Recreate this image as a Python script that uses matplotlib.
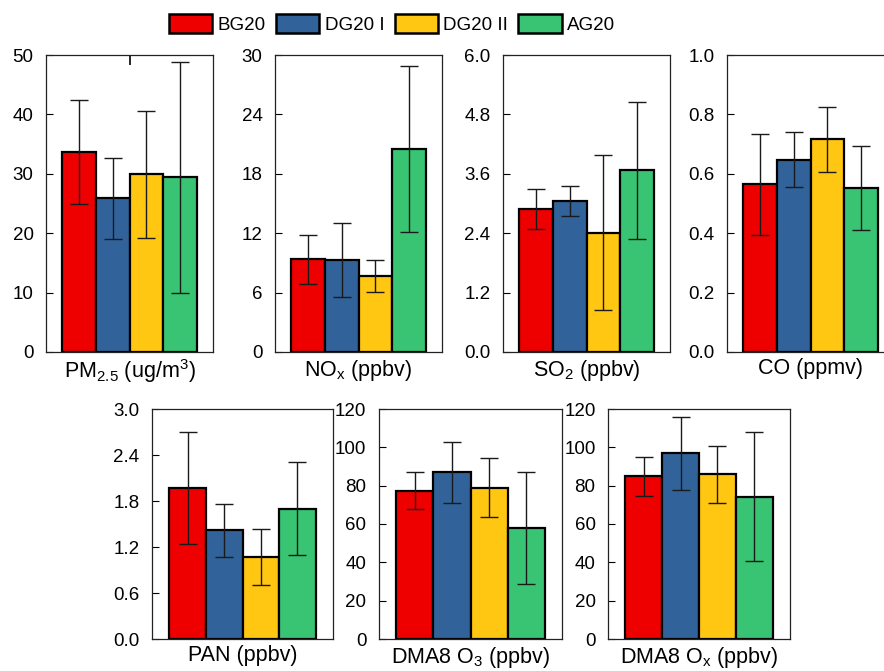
import numpy as np
import matplotlib
matplotlib.use("Agg")
import matplotlib.pyplot as plt
from matplotlib.patches import Patch

plt.rcParams['font.family'] = ['Liberation Sans', 'DejaVu Sans']
plt.rcParams['mathtext.fontset'] = 'custom'
plt.rcParams['mathtext.rm'] = 'Liberation Sans'
plt.rcParams['mathtext.it'] = 'Liberation Sans'

# Periods / groups
groups = ['BG20', 'DG20 I', 'DG20 II', 'AG20']
colors = ['#EE0000', '#31639A', '#FFC612', '#38C472']

# Means and standard deviations
pm25_mean = [33.7, 25.9, 29.9, 29.4]
pm25_sd = [8.7, 6.8, 10.7, 19.5]
nox_mean = [9.35, 9.3, 7.65, 20.5]
nox_sd = [2.5, 3.7, 1.6, 8.4]
so2_mean = [2.89, 3.05, 2.41, 3.67]
so2_sd = [0.40, 0.30, 1.57, 1.38]
co_mean = [0.565, 0.648, 0.716, 0.552]
co_sd = [0.170, 0.094, 0.110, 0.140]
pan_mean = [1.97, 1.42, 1.07, 1.70]
pan_sd = [0.73, 0.345, 0.37, 0.61]
o3_mean = [77.4, 87.1, 78.8, 57.9]
o3_sd = [9.7, 15.9, 15.4, 29.0]
ox_mean = [84.9, 97.0, 85.9, 74.3]
ox_sd = [10.3, 19.0, 15.0, 33.5]

labels = [r'PM$_{2.5}$ (ug/m$^3$)', r'NO$_\mathrm{x}$ (ppbv)', r'SO$_2$ (ppbv)', 'CO (ppmv)',
          'PAN (ppbv)', r'DMA8 O$_3$ (ppbv)', r'DMA8 O$_\mathrm{x}$ (ppbv)']
means = [pm25_mean, nox_mean, so2_mean, co_mean, pan_mean, o3_mean, ox_mean]
sds = [pm25_sd, nox_sd, so2_sd, co_sd, pan_sd, o3_sd, ox_sd]
yticks = [np.arange(0, 51, 10), np.arange(0, 31, 6), np.arange(0, 6.01, 1.2),
          np.arange(0, 1.01, 0.2), np.arange(0, 3.01, 0.6), np.arange(0, 121, 20),
          np.arange(0, 121, 20)]
yfmt = ['{:.0f}', '{:.0f}', '{:.1f}', '{:.1f}', '{:.1f}', '{:.0f}', '{:.0f}']

W, H = 884, 671
fig = plt.figure(figsize=(W / 100, H / 100), dpi=100)

# axes boxes in pixels: left, top, width, height (CO panel runs off the right edge)
boxes = [(46, 55, 167, 297), (275, 55, 167, 297), (503, 55, 167, 297), (727, 55, 167, 297),
         (152, 409, 181, 230), (379, 409, 183, 230), (608, 409, 182, 230)]

x = np.arange(len(groups))
for i, (l, t, w, h) in enumerate(boxes):
    ax = fig.add_axes([l / W, 1 - (t + h) / H, w / W, h / H])
    ax.bar(x, means[i], width=1.0, color=colors, edgecolor='black', linewidth=1.6, zorder=2)
    ax.errorbar(x, means[i], yerr=sds[i], fmt='none', ecolor='#1a1a1a',
                elinewidth=1.0, capsize=6.5, capthick=1.0, zorder=3)
    ax.set_xlim(-0.97, 3.97)
    ax.set_ylim(yticks[i][0], yticks[i][-1])
    ax.set_yticks(yticks[i])
    ax.set_yticklabels([yfmt[i].format(v) for v in yticks[i]])
    ax.tick_params(axis='y', direction='in', length=5, width=0.8, pad=9, labelsize=13.5)
    if i == 0:
        ax.set_xticks([1.5])
        ax.tick_params(axis='x', bottom=False, top=True, direction='in', length=7,
                       width=1.2, labelbottom=False)
    else:
        ax.set_xticks([])
    ax.set_xlabel(labels[i], fontsize=15.5, labelpad=4 if i < 4 else 4.5)
    for s in ax.spines.values():
        s.set_linewidth(0.9)
        s.set_color('#222222')

handles = [Patch(facecolor=c, edgecolor='black', linewidth=1.8) for c in colors]
fig.legend(handles, groups, loc='center', bbox_to_anchor=(392 / W, 1 - 24 / H), ncol=4,
           frameon=False, fontsize=13.5, handlelength=2.3, handleheight=1.2,
           handletextpad=0.3, columnspacing=0.55, borderpad=0)

fig.savefig('out.png', dpi=100)
